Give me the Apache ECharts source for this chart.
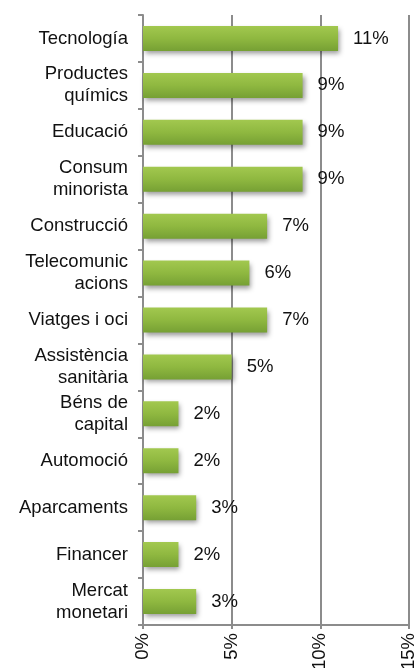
<!DOCTYPE html>
<html>
<head>
<meta charset="utf-8">
<script src="https://cdn.jsdelivr.net/npm/echarts@6/dist/echarts.min.js"></script>
<style>
  html, body { margin: 0; padding: 0; background: #fff; }
  #chart { width: 414px; height: 668px; }
</style>
</head>
<body>
<div id="chart"></div>
<script>
// sectors, top to bottom
const categories = [
  "Tecnología", "Productes\nquímics", "Educació", "Consum\nminorista",
  "Construcció", "Telecomunic\nacions", "Viatges i oci", "Assistència\nsanitària",
  "Béns de\ncapital", "Automoció", "Aparcaments", "Financer", "Mercat\nmonetari"
];
const shares = [11, 9, 9, 9, 7, 6, 7, 5, 2, 2, 3, 2, 3];
const xTicks = [0, 5, 10, 15];

const chart = echarts.init(document.getElementById("chart"));

chart.setOption({
  animation: false,
  textStyle: { fontFamily: "Liberation Sans, Arial, sans-serif" },
  grid: {
    left: 143, right: 5, top: 15, bottom: 43,
    containLabel: false,
    outerBoundsMode: "none"
  },
  xAxis: {
    type: "value",
    min: xTicks[0],
    max: xTicks[xTicks.length - 1],
    interval: 5,
    axisLine: { show: true, lineStyle: { color: "#8c8c8c", width: 2 } },
    axisTick: { show: true, length: 4, lineStyle: { color: "#8c8c8c", width: 2 } },
    splitLine: { show: true, lineStyle: { color: "#8c8c8c", width: 2 } },
    axisLabel: {
      rotate: 90,
      margin: 8,
      fontSize: 18.5,
      color: "#111",
      formatter: v => v + "%"
    }
  },
  yAxis: {
    type: "category",
    inverse: true,
    data: categories,
    axisLine: { show: true, lineStyle: { color: "#8c8c8c", width: 2 } },
    axisTick: { show: true, length: 5, lineStyle: { color: "#8c8c8c", width: 2 } },
    axisLabel: {
      margin: 15,
      fontSize: 18.5,
      lineHeight: 22,
      color: "#111",
      align: "right"
    }
  },
  series: [
    {
      type: "bar",
      data: shares,
      barWidth: 25,
      itemStyle: {
        color: new echarts.graphic.LinearGradient(0, 0, 0, 1, [
          { offset: 0, color: "#a2c84f" },
          { offset: 0.5, color: "#8fb840" },
          { offset: 1, color: "#76a034" }
        ]),
        shadowColor: "rgba(0,0,0,0.4)",
        shadowBlur: 5,
        shadowOffsetX: 2,
        shadowOffsetY: 3
      },
      label: {
        show: true,
        position: "right",
        distance: 15,
        fontSize: 18.5,
        color: "#111",
        formatter: p => p.value + "%"
      }
    }
  ]
});
</script>
</body>
</html>
